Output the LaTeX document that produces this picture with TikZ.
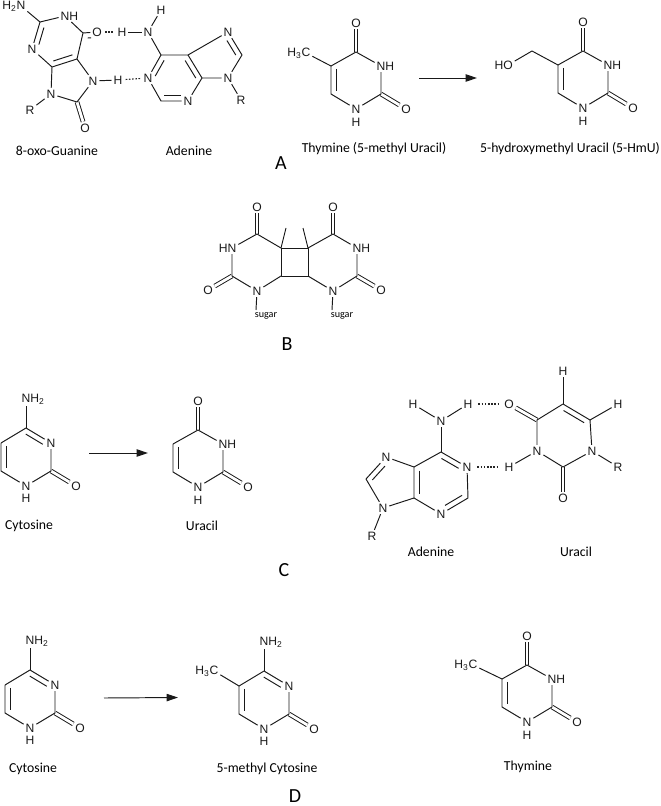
\documentclass[tikz,border=0pt]{standalone}
\usepackage{fontspec}
\setmainfont{Liberation Sans}
\newfontfamily\capfont{Carlito}
\usetikzlibrary{calc,arrows.meta}
\tikzset{
 bond/.style={line width=.72pt,line join=round,draw=black!90},
 dbond/.style={line width=.7pt,double,double distance=2.1pt,draw=black!90},
 hbond/.style={line width=.8pt,dash pattern=on 1.2pt off 1.2pt,shorten >=1pt,shorten <=1pt,draw=black!85},
 atom/.style={font=\fontsize{9.1pt}{10pt}\selectfont,inner sep=1.3pt,text=black!90},
 caption/.style={font=\capfont\fontsize{10.3pt}{12pt}\selectfont,inner sep=0pt,text=black},
 panel/.style={font=\capfont\fontsize{15pt}{17pt}\selectfont,inner sep=0pt,text=black},
 tiny/.style={font=\capfont\fontsize{7.6pt}{9pt}\selectfont,inner sep=0pt,text=black},
 react/.style={line width=.72pt,draw=black!90,-{Triangle[length=8.5pt,width=5.5pt]}}
}
\newcommand\dbl[4]{\draw[bond] ($(#1)!#3!(#2)!4pt!90:(#2)$) -- ($(#2)!#4!(#1)!4pt!-90:(#1)$);}
\newcommand\hh{H\textsubscript{2}}
\newcommand\hhh{H\textsubscript{3}}
\newcommand\uraring[3]{%
\begin{scope}[shift={(#2,#3)}]
 \coordinate (#1c4) at (0,0);
 \node[atom] (#1o4) at (0,-29) {O};
 \node[atom] (#1n3) at (25,14) {N\rlap{H}};
 \coordinate (#1c2) at (25,42);
 \node[atom] (#1o2) at (50,57) {O};
 \node[atom] (#1n1) at (0,57) {N};
 \node[atom] (#1h1) at (0,70) {H};
 \coordinate (#1c6) at (-25,42);
 \coordinate (#1c5) at (-25,14);
 \draw[dbond] (#1c4)--(#1o4);
 \draw[dbond] (#1c2)--(#1o2);
 \draw[bond] (#1c5)--(#1c4)--(#1n3)--(#1c2)--(#1n1)--(#1c6)--(#1c5);
 \dbl{#1c5}{#1c6}{.1}{.1}
\end{scope}}
\newcommand\cytring[3]{%
\begin{scope}[shift={(#2,#3)}]
 \coordinate (#1c4) at (0,0);
 \node[atom] (#1n4) at (0,-29) {N\rlap{\hh}};
 \node[atom] (#1n3) at (25,15) {N};
 \coordinate (#1c2) at (25,43);
 \node[atom] (#1o2) at (50,58) {O};
 \node[atom] (#1n1) at (0,58) {N};
 \node[atom] (#1h1) at (0,70) {H};
 \coordinate (#1c6) at (-25,43);
 \coordinate (#1c5) at (-25,15);
 \draw[dbond] (#1c2)--(#1o2);
 \draw[bond] (#1n4)--(#1c4);
 \draw[bond] (#1c5)--(#1c4)--(#1n3)--(#1c2)--(#1n1)--(#1c6)--(#1c5);
 \dbl{#1c5}{#1c6}{.1}{.1}
 \dbl{#1n3}{#1c4}{.22}{.1}
\end{scope}}
\begin{document}
\begin{tikzpicture}[x=.75pt,y=-.75pt]
\useasboundingbox (0,0) rectangle (660,806);
%% ---- A: 8-oxo-guanine
\node[atom] (gn2) at (21,6) {\llap{\hh}N};
\coordinate (gc2) at (40,22);
\node[atom] (gn1) at (65,16) {N\rlap{H}};
\coordinate (gc6) at (83,33);
\node[atom] (go6) at (97,32) {O};
\coordinate (gc5) at (77,59);
\coordinate (gc4) at (52,67);
\node[atom] (gn3) at (32,49) {N};
\node[atom] (gn9) at (51,94) {N};
\node[atom] (gr) at (30,110) {R};
\node[atom] (gn7) at (93,81) {N};
\coordinate (gc8) at (77,102);
\node[atom] (go8) at (85,128) {O};
\node[atom] (gh7) at (118,80) {H};
\draw[dbond] (gc8)--(go8);
\draw[bond] (gn2)--(gc2)--(gn1)--(gc6)--(gc5)--(gc4)--(gn3)--(gc2);
\draw[bond] (gc6)--(go6);
\dbl{go6}{gc6}{.45}{.3}
\dbl{gc4}{gc5}{.12}{.12}
\dbl{gc2}{gn3}{.15}{.22}
\draw[bond] (gc4)--(gn9)--(gc8)--(gn7)--(gc5);
\draw[bond] (gn9)--(gr);
\draw[bond] (gn7)--(gh7);
%% adenine
\node[atom] (an6) at (148,32) {N};
\node[atom] (ah1) at (161,10) {H};
\node[atom] (ah2) at (122,32) {H};
\coordinate (ac6) at (161,55);
\node[atom] (an1) at (148,78) {N};
\coordinate (ac2) at (161,101);
\node[atom] (an3) at (188,101) {N};
\coordinate (ac4) at (202,78);
\coordinate (ac5) at (188,55);
\node[atom] (an7) at (228,32) {N};
\coordinate (ac8) at (242,55);
\node[atom] (an9) at (228,78) {N};
\node[atom] (ar) at (241,100) {R};
\draw[bond] (an6)--(ah1); \draw[bond] (an6)--(ah2); \draw[bond] (an6)--(ac6);
\draw[bond] (ac6)--(an1)--(ac2)--(an3)--(ac4)--(ac5)--(ac6);
\draw[bond] (ac5)--(an7)--(ac8)--(an9)--(ac4);
\draw[bond] (an9)--(ar);
\dbl{ac6}{an1}{.12}{.2}
\dbl{ac2}{an3}{.12}{.25}
\dbl{ac4}{ac5}{.12}{.12}
\dbl{ac8}{an7}{.12}{.25}
\draw[hbond] (go6)--(ah2);
\draw[hbond] (gh7)--(an1);
\node[caption] (l1) at (57,151) {8-oxo-Guanine};
\node[caption] (l2) at (189,151) {Adenine};
%% thymine, HmU
\uraring{t}{356}{52}
\node[atom] (tme) at (306,53) {\llap{\hhh}C};
\draw[bond] (tme)--(tc5);
\coordinate (ar1s) at (419,78);
\coordinate (ar1e) at (477,78);
\draw[react] (ar1s)--(ar1e);
\uraring{u}{583}{51}
\coordinate (uch) at (532,51);
\node[atom] (uoh) at (508,65) {\llap{H}O};
\draw[bond] (uoh)--(uch)--(uc5);
\node[caption] (l3) at (374,149) {Thymine (5-methyl Uracil)};
\node[caption] (l4) at (570,149) {5-hydroxymethyl Uracil (5-HmU)};
\node[panel] (pa) at (281,163) {A};
%% ---- B: dimer
\coordinate (d1) at (281,248);
\coordinate (d2) at (308,248);
\coordinate (d3) at (281,276);
\coordinate (d4) at (308,276);
\coordinate (lc4) at (257,234);
\node[atom] (lo4) at (257,207) {O};
\node[atom] (ln3) at (232,248) {\llap{H}N};
\coordinate (lc2) at (232,276);
\node[atom] (lo2) at (208,290) {O};
\node[atom] (ln1) at (257,291) {N};
\coordinate (rc4) at (333,234);
\node[atom] (ro4) at (333,207) {O};
\node[atom] (rn3) at (357,248) {N\rlap{H}};
\coordinate (rc2) at (357,276);
\node[atom] (ro2) at (381,290) {O};
\node[atom] (rn1) at (333,291) {N};
\coordinate (me1) at (286,228);
\coordinate (me2) at (303,228);
\coordinate (s1) at (256,310);
\coordinate (s2) at (332,310);
\draw[dbond] (lc4)--(lo4);
\draw[dbond] (lc2)--(lo2);
\draw[dbond] (rc4)--(ro4);
\draw[dbond] (rc2)--(ro2);
\draw[bond] (d1)--(d2)--(d4)--(d3)--cycle;
\draw[bond] (d1)--(lc4)--(ln3)--(lc2)--(ln1)--(d3);
\draw[bond] (d2)--(rc4)--(rn3)--(rc2)--(rn1)--(d4);
\draw[bond] (d1)--(me1);
\draw[bond] (d2)--(me2);
\draw[bond] (ln1)--(s1);
\draw[bond] (rn1)--(s2);
\node[tiny] (s1t) at (266,316) {sugar};
\node[tiny] (s2t) at (342,316) {sugar};
\node[panel] (pb) at (287,344) {B};
%% ---- C
\cytring{c}{26}{428}
\node[caption] (l5) at (29,526) {Cytosine};
\coordinate (ar2s) at (89,453);
\coordinate (ar2e) at (148,453);
\draw[react] (ar2s)--(ar2e);
\uraring{v}{198}{430}
\node[caption] (l6) at (202,526) {Uracil};
\node[panel] (pc) at (284,570) {C};
% adenine
\node[atom] (bh1) at (413,404) {H};
\node[atom] (bn6) at (441,421) {N};
\node[atom] (bh2) at (468,404) {H};
\coordinate (bc6) at (441,452);
\node[atom] (bn1) at (467,467) {N};
\coordinate (bc2) at (468,498);
\node[atom] (bn3) at (441,514) {N};
\coordinate (bc4) at (414,498);
\coordinate (bc5) at (414,467);
\node[atom] (bn7) at (386,457) {N};
\coordinate (bc8) at (366,479);
\node[atom] (bn9) at (383,508) {N};
\node[atom] (br) at (372,536) {R};
\draw[bond] (bn6)--(bh1); \draw[bond] (bn6)--(bh2); \draw[bond] (bn6)--(bc6);
\draw[bond] (bc6)--(bn1)--(bc2)--(bn3)--(bc4)--(bc5)--(bc6);
\draw[bond] (bc5)--(bn7)--(bc8)--(bn9)--(bc4);
\draw[bond] (bn9)--(br);
\dbl{bn1}{bc6}{.22}{.12}
\dbl{bn3}{bc2}{.25}{.12}
\dbl{bc5}{bc4}{.12}{.12}
\dbl{bn7}{bc8}{.25}{.12}
% uracil pair
\node[atom] (wo4) at (509,404) {O};
\coordinate (wc4) at (537,420);
\node[atom] (wn3) at (537,451) {N};
\node[atom] (wh3) at (509,467) {H};
\coordinate (wc2) at (563,467);
\node[atom] (wo2) at (563,498) {O};
\node[atom] (wn1) at (592,451) {N};
\coordinate (wc6) at (590,420);
\coordinate (wc5) at (563,404);
\node[atom] (wh5) at (563,371) {H};
\node[atom] (wh6) at (618,404) {H};
\node[atom] (wr) at (618,467) {R};
\draw[dbond] (wc4)--(wo4);
\draw[dbond] (wc2)--(wo2);
\draw[bond] (wc5)--(wc4)--(wn3)--(wc2)--(wn1)--(wc6)--(wc5);
\draw[bond] (wc5)--(wh5);
\draw[bond] (wc6)--(wh6);
\draw[bond] (wn1)--(wr);
\draw[bond] (wn3)--(wh3);
\dbl{wc6}{wc5}{.12}{.12}
\draw[hbond,shorten >=3pt,shorten <=3pt] (bh2)--(wo4);
\draw[hbond,shorten >=3pt,shorten <=3pt] (bn1)--(wh3);
\node[caption] (l7) at (431,552) {Adenine};
\node[caption] (l8) at (576,552) {Uracil};
%% ---- D
\cytring{e}{30}{670}
\node[caption] (l9) at (33,769) {Cytosine};
\coordinate (ar3s) at (104,698);
\coordinate (ar3e) at (178,697.5);
\draw[react] (ar3s)--(ar3e);
\cytring{f}{264}{671}
\node[atom] (fme) at (214,671) {\llap{\hhh}C};
\draw[bond] (fme)--(fc5);
\node[caption] (l10) at (267,769) {5-methyl Cytosine};
\node[panel] (pd) at (295,796.5) {D};
\uraring{x}{527}{665}
\node[atom] (xme) at (473,665) {\llap{\hhh}C};
\draw[bond] (xme)--(xc5);
\node[caption] (l11) at (528,767) {Thymine};
\end{tikzpicture}
\end{document}
